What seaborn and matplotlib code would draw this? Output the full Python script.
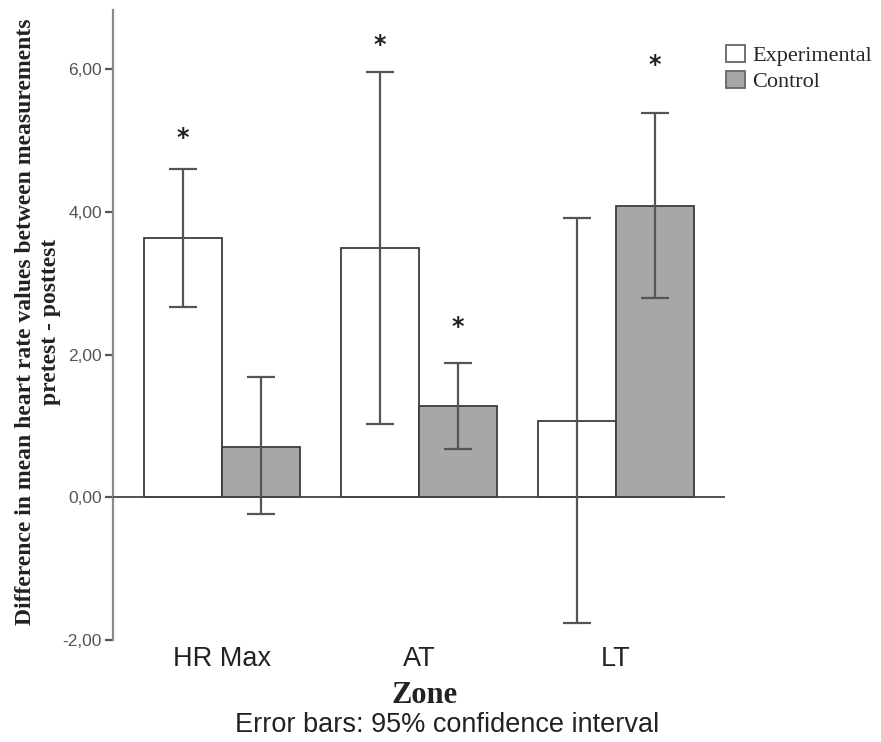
import numpy as np
import pandas as pd
import matplotlib
matplotlib.use("Agg")
import matplotlib.pyplot as plt
import seaborn as sns
from matplotlib.patches import Patch

sns.set_style("white")

# --- values ---
zones = ["HR Max", "AT", "LT"]
groups = ["Experimental", "Control"]
exp_mean = [3.64, 3.49, 1.07]
exp_lo = [2.67, 1.03, -1.76]
exp_hi = [4.60, 5.96, 3.92]
ctrl_mean = [0.71, 1.28, 4.08]
ctrl_lo = [-0.23, 0.67, 2.80]
ctrl_hi = [1.68, 1.88, 5.38]
# significance stars: (group, zone index, y)
stars = [("Experimental", 0, 5.04), ("Experimental", 1, 6.34),
         ("Control", 1, 2.39), ("Control", 2, 6.06)]
ytick_vals = [-2, 0, 2, 4, 6]

df = pd.DataFrame({
    "zone": zones * 2,
    "group": ["Experimental"] * 3 + ["Control"] * 3,
    "mean": exp_mean + ctrl_mean,
    "lo": exp_lo + ctrl_lo,
    "hi": exp_hi + ctrl_hi,
})

EDGE = "#3d3d3d"
GREY = "#a6a7aa"
palette = {"Experimental": "white", "Control": GREY}

fig = plt.figure(figsize=(8.81, 7.42), dpi=100)
ax = fig.add_axes([0.1283, 0.1375, 0.823 - 0.1283, 0.9865 - 0.1375])

sns.barplot(data=df, x="zone", y="mean", hue="group", order=zones,
            hue_order=groups, palette=palette, errorbar=None, width=0.79,
            edgecolor=EDGE, linewidth=1.3, legend=False, ax=ax)

# error bars (95% CI) and stars on top of each bar
for cont, g in zip(ax.containers, groups):
    sub = df[df["group"] == g].set_index("zone").loc[zones]
    xs = [p.get_x() + p.get_width() / 2 for p in cont.patches]
    m = sub["mean"].values
    yerr = np.vstack([m - sub["lo"].values, sub["hi"].values - m])
    ax.errorbar(xs, m, yerr=yerr, fmt="none", ecolor="#555555",
                elinewidth=1.6, capsize=10, capthick=1.6, zorder=5)
    for sg, zi, sy in stars:
        if sg == g:
            ax.text(xs[zi], sy, "*", ha="center", va="center",
                    fontsize=17, fontweight="bold", color="#222222")

ax.set_xlim(-0.553, 2.553)
ax.set_ylim(-2, 6.83)
ax.axhline(0, color="#444444", lw=1.3, zorder=4)

for s in ["top", "right", "bottom"]:
    ax.spines[s].set_visible(False)
ax.spines["left"].set_color("#8a8a8a")
ax.spines["left"].set_linewidth(1.6)

ax.set_yticks(ytick_vals)
ax.set_yticklabels([f"{v:.2f}".replace(".", ",") for v in ytick_vals],
                   fontsize=12.5, color="#555555", family="Liberation Sans")
ax.tick_params(axis="y", direction="out", length=6, width=1.6,
               color="#555555", pad=2, left=True)
ax.tick_params(axis="x", length=0, pad=4)
for lab in ax.get_xticklabels():
    lab.set_fontsize(19.5)
    lab.set_family("Liberation Sans")
    lab.set_color("#222222")
ax.set_xlabel("")
ax.set_ylabel("")

fig.text(0.043, 0.566,
         "Difference in mean heart rate values between measurements\npretest - posttest",
         rotation=90, ha="center", va="center", multialignment="center",
         fontsize=17, fontweight="bold", family="Liberation Serif",
         color="#222222", linespacing=1.25)

fig.text(0.482, 0.062, "Zone", ha="center", va="center", fontsize=22,
         fontweight="bold", family="Liberation Serif", color="#222222")
fig.text(0.508, 0.023, "Error bars: 95% confidence interval", ha="center",
         va="center", fontsize=19.5, family="Liberation Sans", color="#222222")

handles = [Patch(facecolor=palette[g], edgecolor="#666666", linewidth=1.3)
           for g in groups]
fig.legend(handles, groups, loc="upper left", bbox_to_anchor=(0.824, 0.94),
           frameon=False, prop={"family": "Liberation Serif", "size": 16},
           handlelength=0.85, handleheight=0.85, handletextpad=0.35,
           labelspacing=0.2, borderaxespad=0, borderpad=0)

fig.savefig("out.png", dpi=100)
